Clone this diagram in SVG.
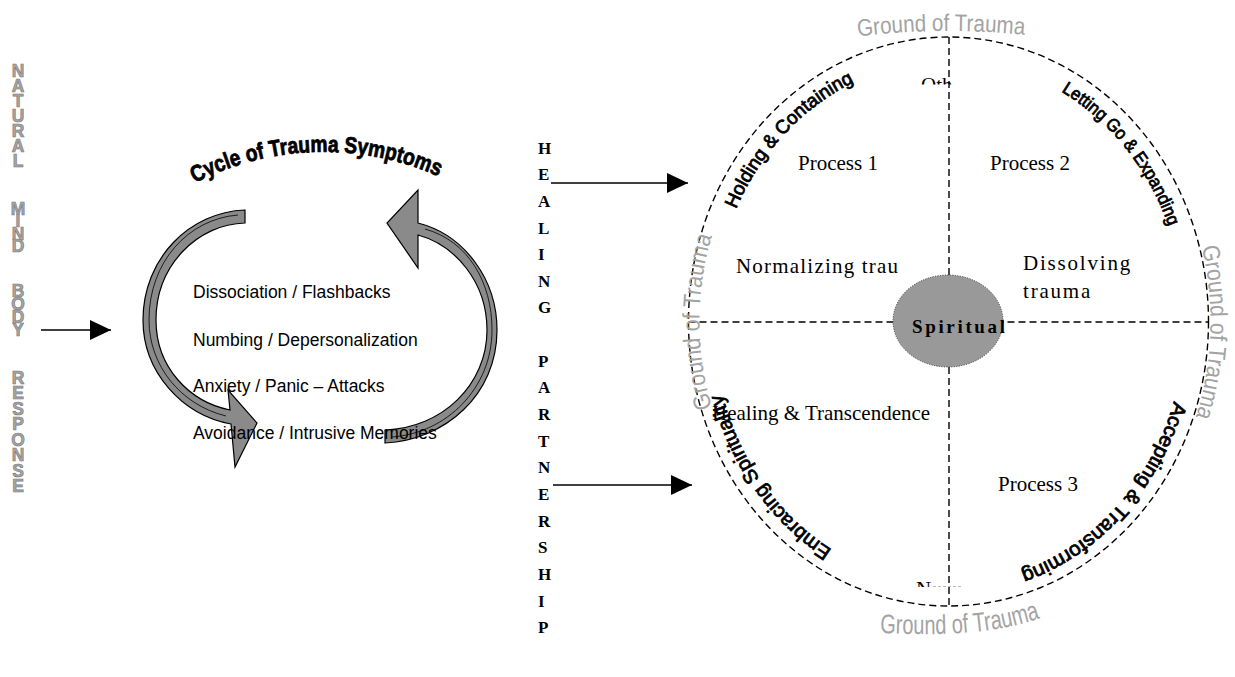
<svg xmlns="http://www.w3.org/2000/svg" width="1235" height="677" viewBox="0 0 1235 677">
<style>
.vt{font-family:"Liberation Sans",Arial,sans-serif;font-weight:bold;font-size:19px;fill:#a6a6a6;stroke:#7a7a7a;stroke-width:0.7;text-anchor:middle}
.hp{font-family:"Liberation Serif","Times New Roman",serif;font-weight:bold;font-size:17px;fill:#000}
.sym{font-family:"Liberation Sans",Arial,sans-serif;font-size:17.5px;fill:#000}
.arc{font-family:"Liberation Sans",Arial,sans-serif;fill:#000;stroke:#000;stroke-width:0.8}
.gr{font-family:"Liberation Sans",Arial,sans-serif;font-size:24px;fill:#a3a3a3}
.sf{font-family:"Liberation Serif","Times New Roman",serif;font-size:21px;fill:#000}
.dash{fill:none;stroke:#000;stroke-width:1.4;stroke-dasharray:7 4}
.carrow{fill:#8a8a8a;stroke:#000;stroke-width:1.2;stroke-linejoin:miter}
.conn{stroke:#000;stroke-width:1.3;fill:none}
</style>
<defs>
<marker id="ah" markerUnits="userSpaceOnUse" markerWidth="21" markerHeight="20" refX="21" refY="10" orient="auto">
<path d="M0,0 L21,10 L0,20 Z" fill="#000"/>
</marker>
<path id="pCycle" d="M193,184 A282,282 0 0 1 442,178"/>
<path id="pHold" d="M736,209.2 A236,262 0 0 1 876.1,72.8"/>
<path id="pLet" d="M1061.2,91.5 A236,262 0 0 1 1173.4,241"/>
<path id="pAcc" d="M1174,401.2 A236,262 0 0 1 1006.1,576.2"/>
<path id="pEmb" d="M832.1,549.6 A236,262 0 0 1 718.2,376.5"/>
<path id="pGTop" d="M858,36.5 Q942,26 1032,35.5"/>
<path id="pGRight" d="M1200.4,242.1 A262,288 0 0 1 1191.4,429.4"/>
<path id="pGLeft" d="M714.5,415.2 A249,274 0 0 1 714.5,227.8"/>
<path id="pGBot" d="M880,633 C945,636 1000,634 1049,615"/>
<clipPath id="clipTop"><rect x="900" y="70" width="70" height="14.5"/></clipPath>
<clipPath id="clipBot"><rect x="900" y="575" width="40" height="12"/></clipPath>
</defs>
<rect width="1235" height="677" fill="#fff"/>

<g id="natural-mind-body-response" class="vt" transform="scale(0.92,1)">
<text><tspan x="19.6" y="77">N</tspan><tspan x="19.6" y="92">A</tspan><tspan x="19.6" y="107">T</tspan><tspan x="19.6" y="122">U</tspan><tspan x="19.6" y="137">R</tspan><tspan x="19.6" y="152">A</tspan><tspan x="19.6" y="167">L</tspan></text>
<text><tspan x="19.6" y="215">M</tspan><tspan x="19.6" y="227.5">I</tspan><tspan x="19.6" y="240">N</tspan><tspan x="19.6" y="252">D</tspan></text>
<text><tspan x="19.6" y="297">B</tspan><tspan x="19.6" y="310">O</tspan><tspan x="19.6" y="323">D</tspan><tspan x="19.6" y="336">Y</tspan></text>
<text><tspan x="19.6" y="384">R</tspan><tspan x="19.6" y="399.5">E</tspan><tspan x="19.6" y="415">S</tspan><tspan x="19.6" y="430.5">P</tspan><tspan x="19.6" y="446">O</tspan><tspan x="19.6" y="461.5">N</tspan><tspan x="19.6" y="477">S</tspan><tspan x="19.6" y="492.5">E</tspan></text>
</g>

<g id="cycle-of-trauma">
<text class="arc" font-size="23" font-weight="bold" stroke-width="0.5"><textPath href="#pCycle" startOffset="2" textLength="252" lengthAdjust="spacingAndGlyphs">Cycle of Trauma Symptoms</textPath></text>
<path class="carrow" d="M245,210 C190,212 143,258 143,320 C143,372 182,415 231,424 L235,467 L257,423 L228,390 L230,410 C190,402 156,368 156,320 C156,265 198,224 245,223 Z"/>
<path d="M238,215 C188,219 149,262 149,320 C149,366 181,405 226,416" fill="none" stroke="#000" stroke-width="0.8"/>
<path class="carrow" d="M385,443 C445,440 497,395 497,330 C497,280 465,235 418,223 L418,190 L387,223 L418,268 L418,235 C455,245 487,282 487,330 C487,385 442,428 385,430 Z"/>
<path d="M425,229 C468,241 492,282 492,330 C492,388 447,433 392,437" fill="none" stroke="#000" stroke-width="0.8"/>
<text class="sym" x="193" y="298">Dissociation / Flashbacks</text>
<text class="sym" x="193" y="345.5">Numbing / Depersonalization</text>
<text class="sym" x="193" y="392">Anxiety / Panic – Attacks</text>
<text class="sym" x="193" y="438.5">Avoidance / Intrusive Memories</text>
</g>

<g id="healing-partnership" class="hp">
<text><tspan x="538" y="153.5">H</tspan><tspan x="538" y="180.2">E</tspan><tspan x="538" y="206.8">A</tspan><tspan x="538" y="233.5">L</tspan><tspan x="538" y="260.1">I</tspan><tspan x="538" y="286.8">N</tspan><tspan x="538" y="313.4">G</tspan><tspan x="538" y="366.7">P</tspan><tspan x="538" y="393.4">A</tspan><tspan x="538" y="420">R</tspan><tspan x="538" y="446.7">T</tspan><tspan x="538" y="473.3">N</tspan><tspan x="538" y="500">E</tspan><tspan x="538" y="526.7">R</tspan><tspan x="538" y="553.3">S</tspan><tspan x="538" y="580">H</tspan><tspan x="538" y="606.6">I</tspan><tspan x="538" y="633.3">P</tspan></text>
</g>

<g id="connectors">
<line class="conn" x1="41" y1="330" x2="111" y2="330" marker-end="url(#ah)"/>
<line class="conn" x1="551" y1="183" x2="688" y2="183" marker-end="url(#ah)"/>
<line class="conn" x1="553" y1="485" x2="692" y2="485" marker-end="url(#ah)"/>
</g>

<g id="healing-circle">
<ellipse class="dash" cx="948.5" cy="321.5" rx="260" ry="284.5"/>
<line class="dash" x1="949" y1="37" x2="949" y2="606"/>
<line class="dash" x1="688.5" y1="322" x2="1208" y2="322"/>
<line x1="933" y1="586.5" x2="961" y2="586.5" stroke="#aaa" stroke-width="0.8" stroke-dasharray="3 2"/>
<text class="sf" x="921" y="92" clip-path="url(#clipTop)">Oth</text>
<text class="sf" x="916" y="596" clip-path="url(#clipBot)">N</text>
</g>

<g id="ground-of-trauma" class="gr">
<text><textPath href="#pGTop" textLength="167" lengthAdjust="spacingAndGlyphs">Ground of Trauma</textPath></text>
<text><textPath href="#pGRight" startOffset="5" textLength="172" lengthAdjust="spacingAndGlyphs">Ground of Trauma</textPath></text>
<text><textPath href="#pGLeft" startOffset="8" textLength="174" lengthAdjust="spacingAndGlyphs">Ground of Trauma</textPath></text>
<text font-size="27"><textPath href="#pGBot" textLength="162" lengthAdjust="spacingAndGlyphs">Ground of Trauma</textPath></text>
</g>

<g id="process-1">
<text class="sf" x="798" y="170">Process 1</text>
<text class="sf" x="736" y="273" letter-spacing="1.2">Normalizing trau</text>
</g>
<g id="process-2">
<text class="sf" x="990" y="170">Process 2</text>
<text class="sf" x="1023" y="270" letter-spacing="1.8">Dissolving</text>
<text class="sf" x="1023" y="298" letter-spacing="1.8">trauma</text>
</g>
<g id="process-3">
<text class="sf" x="998" y="491">Process 3</text>
</g>
<g id="healing-transcendence">
<text class="sf" x="712" y="420">Healing &amp; Transcendence</text>
</g>

<g id="stage-labels" class="arc">
<text font-size="19"><textPath href="#pHold" textLength="177" lengthAdjust="spacingAndGlyphs">Holding &amp; Containing</textPath></text>
<text font-size="18"><textPath href="#pLet" textLength="176" lengthAdjust="spacingAndGlyphs">Letting Go &amp; Expanding</textPath></text>
<text font-size="20"><textPath href="#pAcc" textLength="238" lengthAdjust="spacingAndGlyphs">Accepting &amp; Transforming</textPath></text>
<text font-size="20"><textPath href="#pEmb" textLength="195" lengthAdjust="spacingAndGlyphs">Embracing Spirituality</textPath></text>
</g>

<g id="spiritual">
<ellipse cx="948" cy="321" rx="55" ry="46" fill="#999" stroke="#333" stroke-width="1" stroke-dasharray="1 1.5"/>
<text x="912" y="333" font-family="'Liberation Serif','Times New Roman',serif" font-weight="bold" font-size="19" textLength="93" lengthAdjust="spacing">Spiritual</text>
</g>
</svg>
